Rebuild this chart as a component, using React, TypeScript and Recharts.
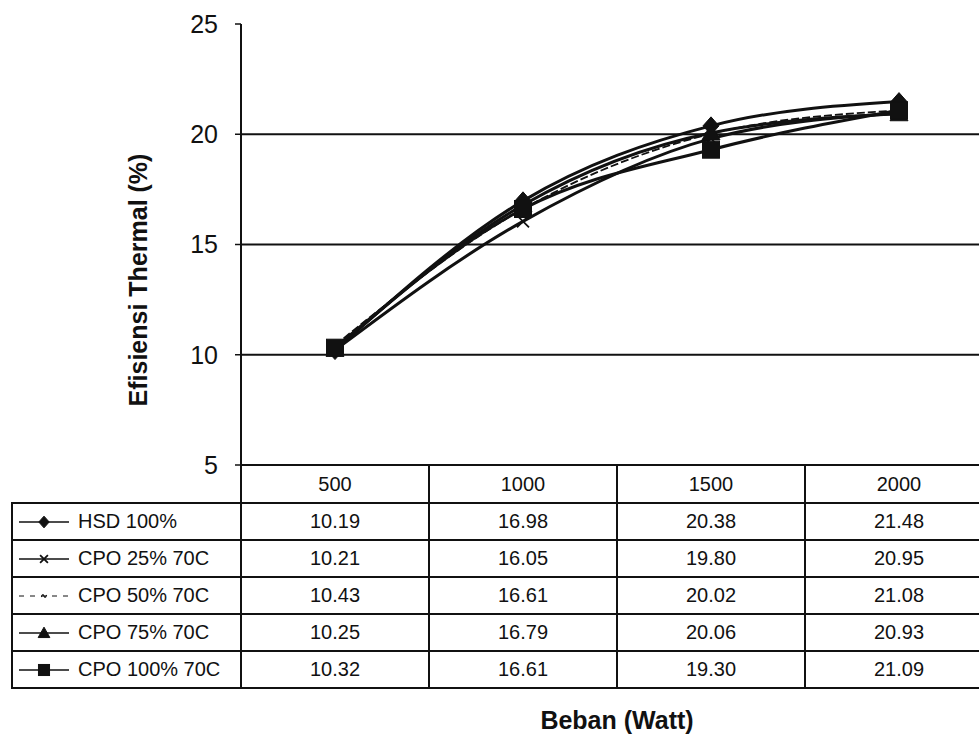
import { LineChart, Line, XAxis, YAxis, ReferenceLine } from 'recharts'

const loads = [500, 1000, 1500, 2000]
const hsd100 = [10.19, 16.98, 20.38, 21.48]
const cpo25 = [10.21, 16.05, 19.8, 20.95]
const cpo50 = [10.43, 16.61, 20.02, 21.08]
const cpo75 = [10.25, 16.79, 20.06, 20.93]
const cpo100 = [10.32, 16.61, 19.3, 21.09]

const seriesNames = ['HSD 100%', 'CPO 25% 70C', 'CPO 50% 70C', 'CPO 75% 70C', 'CPO 100% 70C']
const seriesKeys = ['hsd100', 'cpo25', 'cpo50', 'cpo75', 'cpo100']
const seriesValues = [hsd100, cpo25, cpo50, cpo75, cpo100]
const seriesShapes = ['diamond', 'cross', 'tilde', 'triangle', 'square']

const yTicks = [5, 10, 15, 20, 25]
const gridValues = [10, 15, 20]

const xTitle = 'Beban (Watt)'
const yTitle = 'Efisiensi Thermal (%)'

const data = loads.map((load, i) => {
  const row: Record<string, number> = { load }
  seriesKeys.forEach((k, s) => {
    row[k] = seriesValues[s][i]
  })
  return row
})

// layout
const CHART_W = 1000
const CHART_H = 490
const PLOT_LEFT = 241
const PLOT_TOP = 24
const PLOT_BOTTOM = 465
const PLOT_W = 752
const X_MIN = 250
const X_MAX = 2250
const Y_AXIS_W = 60
const FONT = 'Arial, "Liberation Sans", sans-serif'
const INK = '#111'

function markerPath(shape: string, cx: number, cy: number, scale = 1) {
  const s = scale
  switch (shape) {
    case 'diamond':
      return <path d={`M${cx},${cy - 9 * s} L${cx + 8 * s},${cy} L${cx},${cy + 9 * s} L${cx - 8 * s},${cy} Z`} fill={INK} stroke={INK} />
    case 'square':
      return <rect x={cx - 8.5 * s} y={cy - 8.5 * s} width={17 * s} height={17 * s} fill={INK} stroke={INK} />
    case 'triangle':
      return <path d={`M${cx},${cy - 9 * s} L${cx + 9 * s},${cy + 7 * s} L${cx - 9 * s},${cy + 7 * s} Z`} fill={INK} stroke={INK} />
    case 'cross':
      return (
        <path
          d={`M${cx - 6 * s},${cy - 6 * s} L${cx + 6 * s},${cy + 6 * s} M${cx + 6 * s},${cy - 6 * s} L${cx - 6 * s},${cy + 6 * s}`}
          stroke={INK}
          strokeWidth={1.8}
          fill="none"
        />
      )
    default:
      return <path d={`M${cx - 4 * s},${cy + 1} Q${cx - 2 * s},${cy - 3} ${cx},${cy} T${cx + 4 * s},${cy - 1}`} stroke={INK} strokeWidth={1.2} fill="none" />
  }
}

function makeDot(shape: string) {
  return (props: any) => {
    const { cx, cy, index } = props
    if (cx == null || cy == null) return <g key={`d-${shape}-${index}`} />
    return <g key={`d-${shape}-${index}`}>{markerPath(shape, cx, cy)}</g>
  }
}

function colLeft(load: number) {
  return PLOT_LEFT + ((load - 250 - X_MIN) * PLOT_W) / (X_MAX - X_MIN)
}
const COL_W = (500 * PLOT_W) / (X_MAX - X_MIN)
const HEADER_H = 38
const ROW_H = 37
const LEGEND_LEFT = 12

function Cell({ left, top, width, height, children, align = 'center' }: any) {
  return (
    <div
      style={{
        position: 'absolute',
        left: left - 1,
        top: top - 1,
        width: width + 2,
        height: height + 2,
        boxSizing: 'border-box',
        border: `2px solid ${INK}`,
        display: 'flex',
        alignItems: 'center',
        justifyContent: align === 'center' ? 'center' : 'flex-start',
        fontSize: 20,
        color: INK,
        fontFamily: FONT,
        whiteSpace: 'nowrap',
      }}
    >
      {children}
    </div>
  )
}

export default function App() {
  return (
    <div
      style={{
        position: 'absolute',
        left: 0,
        top: 0,
        width: 979,
        height: 735,
        overflow: 'hidden',
        background: '#fff',
        fontFamily: FONT,
      }}
    >
      <div style={{ position: 'absolute', left: 0, top: 0 }}>
        <LineChart
          width={CHART_W}
          height={CHART_H}
          data={data}
          margin={{
            top: PLOT_TOP,
            left: PLOT_LEFT - Y_AXIS_W,
            right: CHART_W - PLOT_LEFT - PLOT_W,
            bottom: CHART_H - PLOT_BOTTOM,
          }}
        >
          <XAxis type="number" dataKey="load" domain={[X_MIN, X_MAX]} hide />
          <YAxis
            width={Y_AXIS_W}
            domain={[5, 25]}
            ticks={yTicks}
            interval={0}
            axisLine={{ stroke: INK, strokeWidth: 2 }}
            tickLine={{ stroke: INK, strokeWidth: 1.5 }}
            tickSize={6}
            tickMargin={17}
            tick={{ fill: INK, fontSize: 25, fontFamily: FONT }}
          />
          {gridValues.map(v => (
            <ReferenceLine key={v} y={v} stroke={INK} strokeWidth={1.8} />
          ))}
          {seriesKeys.map((k, s) => (
            <Line
              key={k}
              type="monotone"
              dataKey={k}
              name={seriesNames[s]}
              stroke={INK}
              strokeWidth={k === 'cpo50' ? 1.8 : 3}
              strokeDasharray={k === 'cpo50' ? '8 3' : undefined}
              dot={makeDot(seriesShapes[s])}
              activeDot={false}
              isAnimationActive={false}
            />
          ))}
        </LineChart>
      </div>

      {/* y axis title */}
      <div
        style={{
          position: 'absolute',
          left: 138,
          top: 280,
          transform: 'translate(-50%, -50%) rotate(-90deg)',
          fontSize: 25,
          fontWeight: 'bold',
          color: INK,
          whiteSpace: 'nowrap',
        }}
      >
        {yTitle}
      </div>

      {/* data table */}
      {loads.map(load => (
        <Cell key={`h-${load}`} left={colLeft(load)} top={PLOT_BOTTOM} width={COL_W} height={HEADER_H}>
          {load}
        </Cell>
      ))}
      {seriesNames.map((name, s) => {
        const top = PLOT_BOTTOM + HEADER_H + s * ROW_H
        return (
          <div key={name}>
            <Cell left={LEGEND_LEFT} top={top} width={PLOT_LEFT - LEGEND_LEFT} height={ROW_H} align="left">
              <svg width={56} height={20} style={{ marginLeft: 4, marginRight: 5 }}>
                <line
                  x1={2}
                  x2={52}
                  y1={10}
                  y2={10}
                  stroke={INK}
                  strokeWidth={seriesKeys[s] === 'cpo50' ? 1 : 1.6}
                  strokeDasharray={seriesKeys[s] === 'cpo50' ? '5 6' : undefined}
                />
                {markerPath(seriesShapes[s], 27, 10, 0.65)}
              </svg>
              {name}
            </Cell>
            {loads.map((load, i) => (
              <Cell key={`${name}-${load}`} left={colLeft(load)} top={top} width={COL_W} height={ROW_H}>
                {seriesValues[s][i].toFixed(2)}
              </Cell>
            ))}
          </div>
        )
      })}

      {/* x axis title */}
      <div
        style={{
          position: 'absolute',
          left: 617,
          top: 720,
          transform: 'translate(-50%, -50%)',
          fontSize: 25,
          fontWeight: 'bold',
          color: INK,
          whiteSpace: 'nowrap',
        }}
      >
        {xTitle}
      </div>
    </div>
  )
}
